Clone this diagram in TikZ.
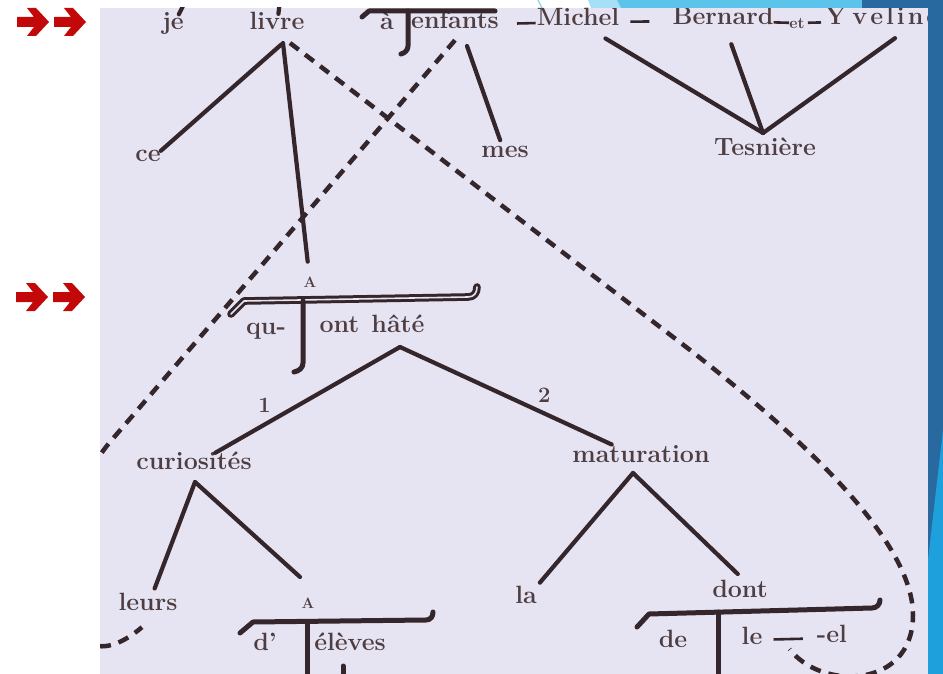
\documentclass[tikz,border=0pt]{standalone}
\usepackage{fontspec}
\usepackage{tikz}
\usetikzlibrary{calc}
\definecolor{paper}{RGB}{230,228,243}
\definecolor{ink}{RGB}{52,38,42}
\definecolor{txt}{RGB}{78,62,66}
\definecolor{arrowred}{RGB}{195,8,10}
\definecolor{bluedark}{RGB}{40,105,160}
\definecolor{bluemid}{RGB}{92,195,235}
\definecolor{bluelight}{RGB}{165,224,246}
\definecolor{bluebright}{RGB}{30,160,220}
\tikzset{wd/.style={text=txt,inner sep=0pt,yshift=-3pt,text height=11pt,text depth=3pt,font=\fontsize{25}{28}\selectfont\bfseries},
  lbl/.style={text=txt,inner sep=0pt,font=\fontsize{22}{24}\selectfont\bfseries},
  capA/.style={text=txt,inner sep=0pt,font=\fontsize{15}{16}\selectfont\bfseries},
  stem/.style={draw=ink,line width=4.2pt,line cap=round},
  junc/.style={draw=ink,line width=2.6pt},
  anaph/.style={draw=ink,line width=4.5pt,dash pattern=on 11pt off 8pt},
  tbar/.style={draw=ink,line width=5pt,line cap=round,line join=round},
  tdbl/.style={draw=ink,line width=3pt,double=paper,double distance=1.6pt,line cap=round,line join=round},
  redarr/.pic={\fill[arrowred] (0,-5) -- (17,-5) -- (10,-14) -- (19,-14) -- (32,0) -- (19,14) -- (10,14) -- (17,5) -- (0,5) -- cycle;}}

\begin{document}
\begin{tikzpicture}[x=1pt,y=-1pt,line join=round]
\useasboundingbox (0,0) rectangle (943,674);
\fill[white] (0,0) rectangle (943,674);
\fill[paper] (100,8) rectangle (928,674);
\begin{scope}
\clip (100,8) rectangle (928,674);
% --- top row: je livre a enfants Michel Bernard et Yveline
\node[wd] (je) at (173,23) {je};
\node[wd] (livre) at (277,23) {livre};
\node[wd] (a) at (387,23) {à};
\node[wd] (enfants) at (455,22) {enfants};
\node[wd] (michel) at (578,19) {Michel};
\node[wd] (bernard) at (723,18) {Bernard};
\node[lbl,yshift=-3pt,font=\fontsize{16}{18}\selectfont\bfseries] (et) at (797,20) {et};
\node[wd,anchor=west] (yvelin) at (825,18) {Y\kern6pt v\kern3pt e\kern3pt l\kern3pt i\kern3pt n\kern3pt e};
\node[wd] (ce) at (148,155) {ce};
\node[wd] (mes) at (505,151) {mes};
\node[wd] (tesniere) at (765,149) {Tesnière};
% --- relative clause: qu- ont hate
\node[capA] (capA1) at (310,282) {A};
\node[wd] (qu) at (266,327) {qu-};
\node[wd] (hate) at (372,325) {ont\kern12pt hâté};
\node[wd] (curiosites) at (194,462) {curiosités};
\node[wd] (maturation) at (641,455) {maturation};
\node[wd] (leurs) at (148,603) {leurs};
\node[capA] (capA2) at (308,603) {A};
\node[wd] (d) at (265,643) {d'};
\node[wd] (eleves) at (350,643) {élèves};
\node[wd] (la) at (526,596) {la};
\node[wd] (dont) at (740,590) {dont};
\node[wd] (de) at (673,640) {de};
\node[wd] (le) at (752,637) {le};
\node[wd] (el) at (832,635) {-el};
% --- junction points of the stemma
\coordinate (je-up) at (186,0);
\coordinate (livre-up) at (280,0);
\coordinate (livre-a) at (283,43);
\coordinate (enf-a) at (467,46);
\coordinate (tes-a) at (763,133);
\coordinate (hate-a) at (400,347);
\coordinate (cur-a) at (195,482);
\coordinate (eleves-top) at (300,577);
\coordinate (mat-a) at (633,473);
% --- connections
\draw[stem,shorten >=5pt] (je-up) -- (je);
\draw[stem,shorten >=5pt] (livre-up) -- (livre);
\draw[stem,shorten <=2pt] (livre-a) -- (ce.north east);
\draw[stem,shorten >=15pt] (livre-a) -- (capA1);
\draw[stem,shorten >=7pt] (enf-a) -- (mes);
\draw[stem,shorten <=18pt] (michel) -- (tes-a);
\draw[stem,shorten <=17pt] (bernard) -- (tes-a);
\draw[stem] ([xshift=70pt,yshift=-10pt]yvelin.south west) -- (tes-a);
\draw[junc,shorten <=18pt,shorten >=1pt] (enfants) -- (michel);
\draw[junc,shorten <=11pt,shorten >=23pt] (michel) -- (bernard);
\draw[junc] (bernard) -- (et);
\draw[junc,shorten <=3pt,shorten >=4pt] (et) -- (yvelin);
\draw[stem,shorten >=10pt] (hate-a) -- node[lbl,pos=0.7,above=10pt] (one) {1} (curiosites);
\draw[stem,shorten >=15pt] (hate-a) -- node[lbl,pos=0.64,above=9pt] (two) {2} (maturation);
\draw[stem,shorten >=11pt] (cur-a) -- (leurs);
\draw[stem] (cur-a) -- (eleves-top);
\draw[stem,shorten >=12pt] (mat-a) -- (la);
\draw[stem,shorten >=17pt] (mat-a) -- ([xshift=10pt]dont.north);
\draw[junc,shorten <=11pt,shorten >=14pt] (le) -- coordinate (lel) (el);
% --- translation bars
\draw[tbar] (362,17) -- (369,11) -- (495,11);
\draw[tbar] (408,11) -- (408,46) .. controls (408,50) and (405,53) .. (401,54);
\draw[tdbl] (231,314) -- (244,301) -- (468,297) .. controls (474,297) and (477,293) .. (477,287);
\draw[tbar] (303,301) -- (303,363) .. controls (303,368) and (299,371) .. (294,372);
\draw[tbar] (240,633) -- (253,622) -- (426,620) .. controls (431,620) and (433,616) .. (433,612);
\draw[tbar] (307,622) -- (307,680);
\draw[tbar] (343,666) -- (343,680);
\draw[tbar] (637,627) -- (649,614) -- (872,608) .. controls (877,608) and (880,604) .. (880,600);
\draw[tbar] (718,612) -- (718,680);
% --- anaphoric links
\draw[anaph] ([xshift=7pt]livre-a) -- (690,350) .. controls (800,436) and (913,540) .. (913,615) .. controls (913,690) and (820,690) .. ([yshift=-10pt]lel);
\draw[anaph] ([yshift=-8pt]enfants.south) -- (110,442) .. controls (40,525) and (50,705) .. ([xshift=-6pt,yshift=-14pt]leurs.south);
\end{scope}
% --- slide frame
\draw[bluelight!60!bluemid,line width=1.2pt] (538,0) -- (542,8);
\fill[bluelight] (588,0) -- (617,0) -- (621,8) -- (591,8) -- cycle;
\fill[bluemid] (617,0) -- (862,0) -- (862,8) -- (621,8) -- cycle;
\fill[bluedark] (862,0) rectangle (943,8);
\fill[bluedark] (928,0) rectangle (943,674);
\fill[bluebright] (928,560) -- (943,430) -- (943,674) -- (928,674) -- cycle;
\pic at (17,22) {redarr};
\pic at (54,22) {redarr};
\pic at (16,297) {redarr};
\pic at (53,297) {redarr};
\end{tikzpicture}
\end{document}
